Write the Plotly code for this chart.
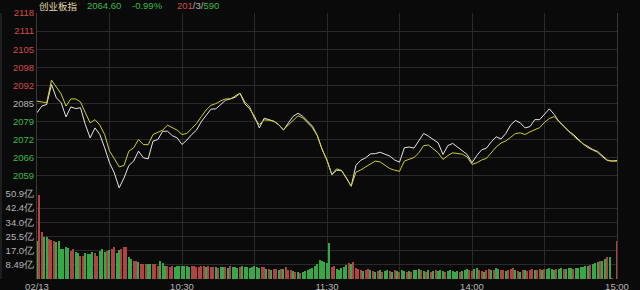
import plotly.graph_objects as go

# ---------------- data ----------------
prev_close = 2085.24
price_step = 6.55
price_labels = ["2118", "2111", "2105", "2098", "2092", "2085", "2079", "2072", "2066", "2059"]
pct_labels = ["1.6%", "1.3%", "0.9%", "0.6%", "0.3%", "0.0%", "0.3%", "0.6%", "0.9%", "1.3%"]
vol_labels = ["8.49亿", "17.0亿", "25.5亿", "34.0亿", "42.4亿", "50.9亿"]
vol_step = 8.49
time_ticks = ["02/13", "", "10:30", "", "11:30", "", "14:00", "", "15:00"]

header_name = "创业板指"
header_last = "2064.60"
header_chg = "-0.99%"
header_up, header_flat, header_down = "201", "3", "590"

# trading minute offsets (0 = 09:30, 120 = 11:30/13:00, 240 = 15:00), sampled every 2 minutes
sample_minutes = list(range(0, 241, 2))

index_price = [
    2081.9, 2084.3, 2084.9, 2092.1, 2087.3, 2085.5, 2080.4, 2084.0, 2083.4, 2083.7,
    2077.6, 2072.8, 2076.4, 2074.0, 2069.2, 2063.8, 2060.1, 2054.7, 2058.3, 2062.8,
    2064.4, 2068.0, 2065.6, 2065.2, 2071.6, 2072.2, 2075.2, 2075.2, 2073.6, 2072.8,
    2070.4,
    2072.0, 2074.0, 2075.6, 2078.7, 2081.0, 2083.2, 2083.3, 2085.0, 2086.4, 2086.9,
    2087.5, 2088.9, 2085.1, 2083.3, 2080.6, 2076.4, 2079.9, 2079.4, 2078.8, 2077.6,
    2075.6, 2078.2, 2080.6, 2081.7, 2080.6, 2078.8, 2077.0, 2073.6, 2068.6, 2064.7,
    2059.5, 2061.1, 2061.0, 2058.2, 2055.3, 2062.9, 2064.7, 2065.6, 2067.0, 2067.1,
    2067.6, 2066.9, 2066.2, 2064.8, 2064.0, 2069.2, 2069.5, 2069.1, 2071.6, 2074.4,
    2073.4, 2072.2, 2071.0, 2066.8, 2070.0, 2070.8, 2069.5, 2068.3, 2066.8, 2063.8,
    2066.4, 2068.5, 2069.1, 2071.4, 2073.2, 2072.4, 2074.4, 2077.5, 2079.1, 2078.2,
    2076.4, 2076.9, 2079.4, 2079.4, 2081.5, 2083.3, 2081.3, 2078.7, 2077.0, 2075.2,
    2074.0, 2072.3, 2070.6, 2069.3, 2068.5, 2067.6, 2066.0, 2064.6, 2064.4, 2064.6,
]

avg_price = [
    2086.1, 2085.7, 2085.5, 2093.7, 2091.0, 2088.7, 2084.3, 2086.9, 2086.9, 2085.8,
    2081.9, 2078.2, 2079.4, 2077.4, 2074.0, 2068.0, 2065.3, 2062.3, 2062.8, 2068.0,
    2069.2, 2072.2, 2070.4, 2070.3, 2074.0, 2074.9, 2075.6, 2077.4, 2076.4, 2075.6,
    2074.0,
    2074.4, 2076.2, 2078.0, 2080.5, 2082.9, 2084.6, 2085.2, 2086.2, 2086.9, 2086.9,
    2088.1, 2089.0, 2085.8, 2084.0, 2079.8, 2077.6, 2079.3, 2079.2, 2078.8, 2077.6,
    2075.8, 2077.5, 2079.3, 2080.8, 2080.0, 2078.2, 2076.4, 2073.6, 2068.6, 2064.7,
    2059.6, 2061.6, 2061.0, 2058.4, 2055.3, 2060.4, 2061.2, 2062.3, 2063.4, 2064.4,
    2064.1, 2062.9, 2061.7, 2061.1, 2060.7, 2064.4, 2065.1, 2065.7, 2067.4, 2070.0,
    2070.2, 2068.7, 2067.4, 2065.0, 2066.4, 2067.4, 2067.1, 2066.9, 2065.9, 2063.2,
    2063.8, 2064.8, 2065.4, 2067.3, 2069.5, 2070.9, 2071.7, 2073.0, 2074.4, 2074.6,
    2074.0, 2075.0, 2075.7, 2076.5, 2078.4, 2079.8, 2080.5, 2078.7, 2077.0, 2075.2,
    2073.5, 2072.0, 2070.6, 2069.7, 2068.6, 2067.9, 2066.3, 2064.8, 2064.4, 2064.4,
]

# per-minute turnover (亿), minute 0..240
vol_minutes = list(range(241))
volume = [
    23.0, 50.3, 28.1, 25.4, 25.0, 24.0, 23.4, 22.6, 22.0, 22.6,
    18.0, 18.0, 19.0, 18.4, 17.0, 18.0, 16.0, 15.3, 13.9, 13.9,
    15.3, 14.9, 14.9, 16.0, 15.3, 13.9, 17.0, 18.0, 16.4, 17.0,
    17.6, 18.0, 19.0, 15.3, 17.4, 18.0, 19.0, 19.0, 13.3, 11.9,
    10.9, 10.9, 9.9, 8.9, 8.9, 8.9, 8.9, 8.9, 8.9, 8.9,
    7.9, 10.9, 9.3, 7.9, 7.9, 7.3, 7.9, 7.3, 7.9, 7.9,
    7.9, 7.9, 7.5, 7.3, 7.9, 7.9, 7.3, 7.3, 7.9, 7.5,
    7.3, 7.9, 7.3, 6.9, 7.3, 6.5, 7.3, 6.9, 7.3, 6.5,
    7.5, 6.9, 7.3, 6.5, 6.9, 7.5, 7.3, 6.9, 6.5, 7.3,
    7.9, 6.9, 6.5, 7.3, 6.9, 6.0, 5.8, 5.5, 5.8, 6.0,
    5.5, 5.8, 6.0, 7.3, 5.5, 5.2, 4.8, 4.4, 4.4, 3.8,
    4.4, 4.8, 5.5, 6.0, 6.5, 7.9, 8.9, 11.3, 10.5, 9.9,
    9.3, 21.4, 7.3, 7.9, 5.8, 5.2, 6.5, 7.3, 8.5, 9.3,
    8.9, 9.9, 6.5, 5.8, 5.2, 4.8, 5.5, 5.8, 5.2, 4.8,
    4.4, 4.8, 5.2, 4.4, 4.8, 5.2, 4.8, 4.4, 5.2, 4.8,
    4.4, 5.5, 4.8, 4.4, 4.8, 4.4, 5.2, 5.5, 5.8, 5.2,
    4.8, 4.4, 5.2, 4.4, 4.8, 5.2, 4.8, 5.2, 4.8, 4.4,
    4.8, 5.2, 4.8, 4.4, 4.8, 4.4, 4.8, 5.2, 5.8, 5.2,
    4.8, 6.0, 6.5, 5.2, 4.8, 4.4, 5.2, 5.8, 5.2, 5.5,
    6.5, 6.0, 5.5, 5.2, 4.8, 5.5, 6.0, 6.5, 5.2, 4.8,
    4.4, 5.2, 5.5, 4.8, 5.5, 5.8, 5.2, 5.5, 5.8, 5.2,
    5.8, 6.0, 6.5, 6.0, 5.5, 5.8, 6.0, 6.5, 5.8, 6.0,
    6.5, 6.5, 6.0, 6.5, 6.5, 6.9, 7.3, 7.9, 7.9, 8.5,
    8.9, 9.3, 9.9, 10.5, 10.9, 11.9, 12.9, 13.3, 0.5, 0.0,
    22.6,
]
vol_dir = (
    "grrggrrrgg" "ggggrrggrr" "ggggrrgggr" "grrggrrrgg" "rrgrrrggrr"
    "rgggrrrggg" "ggggrrrrrr" "grrrgrggrg" "rgggrggggg" "gggrrgrgrr"
    "grgrrrgrgr" "gggggggggg" "ggrrgggggr" "grrrrgrrgr" "grgrggrgrg"
    "rggrgrgggr" "grgrgrgggr" "gggggrgggr" "rggrrgrrgr" "ggrrgrrrgr"
    "grgrrrgrrg" "rggggrggrg" "ggrggggggr" "gggrggrgrr" "r"
)

# ---------------- style ----------------
BG = "#0a0a0a"
GRID = "#2a2a2a"
RED = "#d24b4b"
GREEN = "#3cb84a"
GREY = "#b4b4b4"
WHITE_LINE = "#e6e6e6"
YELLOW_LINE = "#cfcf2a"
BAR_RED = "#b04444"
BAR_GREEN = "#37a845"
FONT = "Liberation Sans, Arial, sans-serif"
CJK = "Noto Sans CJK SC, Liberation Sans, sans-serif"

n_up = 5
price_vals = [prev_close + (n_up - i) * price_step for i in range(len(price_labels))]
label_colors = [RED if v > prev_close + 0.01 else (GREY if abs(v - prev_close) < 0.01 else GREEN)
                for v in price_vals]
price_text = [f'<span style="color:{c}">{t}</span>' for t, c in zip(price_labels, label_colors)]
pct_text = [f'<span style="color:{c}">{t}</span>' for t, c in zip(pct_labels, label_colors)]
price_range = [prev_close - 5 * price_step, prev_close + 5 * price_step]

vol_vals = [vol_step * (i + 1) for i in range(len(vol_labels))]
bar_colors = [BAR_RED if d == "r" else BAR_GREEN for d in vol_dir]

split = 85 / 266.0

fig = go.Figure()
fig.add_trace(go.Bar(x=vol_minutes, y=volume, marker=dict(color=bar_colors, line_width=0),
                     width=0.5, xaxis="x2", yaxis="y3", hoverinfo="y"))
fig.add_trace(go.Scatter(x=sample_minutes, y=index_price, mode="lines",
                         line=dict(color=WHITE_LINE, width=1), xaxis="x", yaxis="y"))
fig.add_trace(go.Scatter(x=sample_minutes, y=avg_price, mode="lines",
                         line=dict(color=YELLOW_LINE, width=1), xaxis="x", yaxis="y"))

grid_x = list(range(0, 241, 30))
common_x = dict(range=[0, 240], tickvals=grid_x, showgrid=True, gridcolor=GRID, gridwidth=1,
                zeroline=False, ticks="", fixedrange=True)

fig.update_layout(
    width=640, height=290,
    margin=dict(l=37, r=23, t=13, b=11, autoexpand=False),
    paper_bgcolor=BG, plot_bgcolor=BG,
    showlegend=False, bargap=0,
    font=dict(family=FONT, size=9.5, color=GREY),
    xaxis=dict(domain=[0, 1], anchor="y", showticklabels=False, **common_x),
    xaxis2=dict(domain=[0, 1], anchor="y3", ticktext=time_ticks, showticklabels=True,
                tickfont=dict(color=GREY, size=9.5), **common_x),
    yaxis=dict(domain=[split, 1], range=price_range, tickvals=price_vals, ticktext=price_text,
               showgrid=True, gridcolor=GRID, zeroline=False, ticks="",
               showline=True, linecolor="#3a3a3a", linewidth=1, mirror=True,
               tickfont=dict(size=9.5)),
    yaxis2=dict(domain=[split, 1], range=price_range, overlaying="y", side="right",
                tickvals=price_vals, ticktext=pct_text, showgrid=False, zeroline=False,
                ticks="", anchor="x", tickfont=dict(size=9.5)),
    yaxis3=dict(domain=[0, split], range=[0, vol_step * 6], tickvals=vol_vals, ticktext=vol_labels,
                showgrid=True, gridcolor=GRID, zeroline=False, ticks="",
                showline=True, linecolor="#3a3a3a", linewidth=1, mirror=True,
                tickfont=dict(size=9.5, color=GREY)),
    shapes=[
        dict(type="line", xref="x domain", yref="y", x0=0, x1=1, y0=prev_close, y1=prev_close,
             line=dict(color="#4a4a4a", width=1), layer="below"),
        dict(type="line", xref="paper", yref="paper", x0=-36 / 580, x1=-36 / 580, y0=0, y1=1,
             line=dict(color="#333333", width=1)),
    ],
)

hy = 1 + 7 / 266.0
annos = [
    dict(text=header_name, x=0.0, font=dict(family=CJK, size=9.5, color="#e2dba6")),
    dict(text=header_last, x=48 / 580, font=dict(color=GREEN)),
    dict(text=header_chg, x=93 / 580, font=dict(color=GREEN)),
    dict(text=f'<span style="color:{RED}">{header_up}</span><span style="color:{GREY}">/{header_flat}/</span>'
              f'<span style="color:{GREEN}">{header_down}</span>', x=138 / 580, font=dict(color=GREY)),
]
for a in annos:
    a.update(xref="paper", yref="paper", y=hy, xanchor="left", yanchor="middle", showarrow=False)
    a.setdefault("font", {}).setdefault("size", 9.5)
fig.update_layout(annotations=annos)

fig.write_html("out.html")
